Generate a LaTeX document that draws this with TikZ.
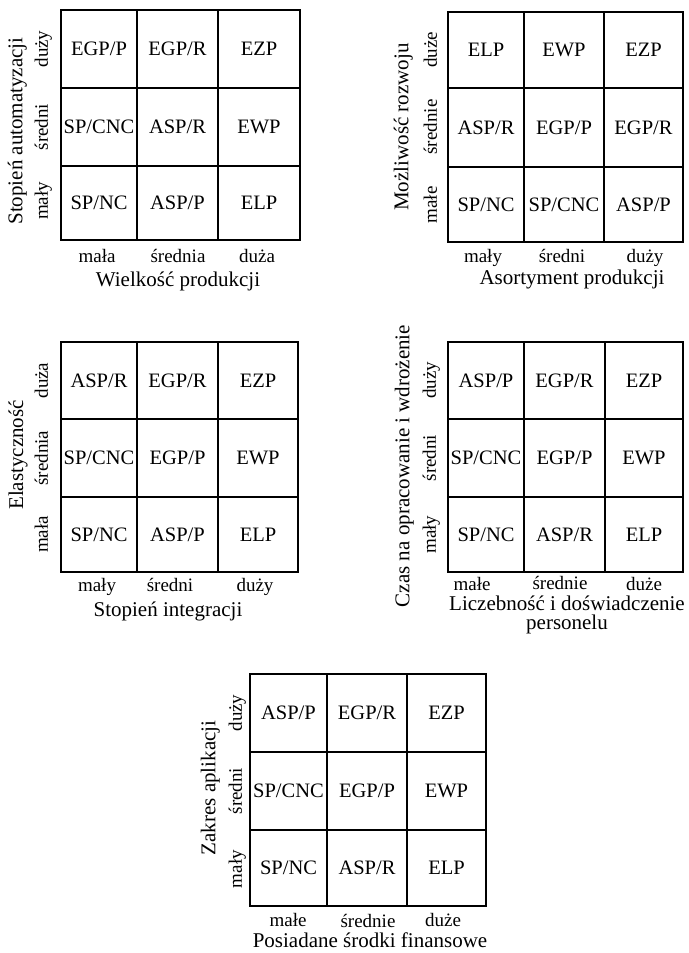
\documentclass[tikz,border=0pt]{standalone}
\usepackage{fontspec}
\setmainfont{Liberation Serif}
\newcommand\matgrid[8]{%
  \draw[gridline] (#1,#5) rectangle (#4,#8);
  \draw[gridline] (#2,#5) -- (#2,#8) (#3,#5) -- (#3,#8) (#1,#6) -- (#4,#6) (#1,#7) -- (#4,#7);}
\begin{document}
\begin{tikzpicture}[x=1pt,y=-1pt,
  cell/.style={font=\fontsize{20.5}{24}\selectfont, inner sep=0pt, text height=13.5pt, text depth=0pt},
  lab/.style={font=\fontsize{19}{22}\selectfont, inner sep=0pt, text height=13.3pt, text depth=3.8pt},
  ttl/.style={font=\fontsize{21}{24}\selectfont, inner sep=0pt, text height=14.7pt, text depth=4.2pt},
  gridline/.style={line width=1.2pt}]
\useasboundingbox[fill=white] (0,0) rectangle (688,953);

% ---------- Grid 1 ----------
\matgrid{61}{137}{218}{300}{10}{88}{166}{240}
\node[cell] (a11) at (99,49) {EGP/P};
\node[cell] (a12) at (177.5,49) {EGP/R};
\node[cell] (a13) at (259,49) {EZP};
\node[cell] (a21) at (99,127) {SP/CNC};
\node[cell] (a22) at (177.5,127) {ASP/R};
\node[cell] (a23) at (259,127) {EWP};
\node[cell] (a31) at (99,203) {SP/NC};
\node[cell] (a32) at (177.5,203) {ASP/P};
\node[cell] (a33) at (259,203) {ELP};
\node[lab] (ax1) at (97,258) {mała};
\node[lab] (ax2) at (178,258) {średnia};
\node[lab] (ax3) at (257,258) {duża};
\node[ttl] (at) at (178,281) {Wielkość produkcji};
\node[lab,rotate=90] (ay1) at (43,49) {duży};
\node[lab,rotate=90] (ay2) at (43,127) {średni};
\node[lab,rotate=90] (ay3) at (43,201) {mały};
\node[ttl,rotate=90] (ayt) at (17,131) {Stopień automatyzacji};

% ---------- Grid 2 ----------
\matgrid{448}{524}{604}{683}{12}{88}{167}{242}
\node[cell] (b11) at (486,50) {ELP};
\node[cell] (b12) at (564,50) {EWP};
\node[cell] (b13) at (643.5,50) {EZP};
\node[cell] (b21) at (486,127.5) {ASP/R};
\node[cell] (b22) at (564,127.5) {EGP/P};
\node[cell] (b23) at (643.5,127.5) {EGP/R};
\node[cell] (b31) at (486,204.5) {SP/NC};
\node[cell] (b32) at (564,204.5) {SP/CNC};
\node[cell] (b33) at (643.5,204.5) {ASP/P};
\node[lab] (bx1) at (483,258) {mały};
\node[lab] (bx2) at (562,258) {średni};
\node[lab] (bx3) at (645,258) {duży};
\node[ttl] (bt) at (572,279) {Asortyment produkcji};
\node[lab,rotate=90] (by1) at (432,50) {duże};
\node[lab,rotate=90] (by2) at (432,127) {średnie};
\node[lab,rotate=90] (by3) at (432,205) {małe};
\node[ttl,rotate=90] (byt) at (403,127) {Możliwość rozwoju};

% ---------- Grid 3 ----------
\matgrid{61}{137}{218}{298}{342}{419}{497}{572}
\node[cell] (c11) at (99,380.5) {ASP/R};
\node[cell] (c12) at (177.5,380.5) {EGP/R};
\node[cell] (c13) at (258,380.5) {EZP};
\node[cell] (c21) at (99,458) {SP/CNC};
\node[cell] (c22) at (177.5,458) {EGP/P};
\node[cell] (c23) at (258,458) {EWP};
\node[cell] (c31) at (99,534.5) {SP/NC};
\node[cell] (c32) at (177.5,534.5) {ASP/P};
\node[cell] (c33) at (258,534.5) {ELP};
\node[lab] (cx1) at (97,587) {mały};
\node[lab] (cx2) at (170,587) {średni};
\node[lab] (cx3) at (255,587) {duży};
\node[ttl] (ct) at (168,611) {Stopień integracji};
\node[lab,rotate=90] (cy1) at (43,380.5) {duża};
\node[lab,rotate=90] (cy2) at (43,458) {średnia};
\node[lab,rotate=90] (cy3) at (43,534.5) {mała};
\node[ttl,rotate=90] (cyt) at (18,455) {Elastyczność};

% ---------- Grid 4 ----------
\matgrid{448}{524}{605}{683}{342}{419}{497}{572}
\node[cell] (d11) at (486,380.5) {ASP/P};
\node[cell] (d12) at (564.5,380.5) {EGP/R};
\node[cell] (d13) at (644,380.5) {EZP};
\node[cell] (d21) at (486,458) {SP/CNC};
\node[cell] (d22) at (564.5,458) {EGP/P};
\node[cell] (d23) at (644,458) {EWP};
\node[cell] (d31) at (486,534.5) {SP/NC};
\node[cell] (d32) at (564.5,534.5) {ASP/R};
\node[cell] (d33) at (644,534.5) {ELP};
\node[lab] (dx1) at (472,586) {małe};
\node[lab] (dx2) at (560,585) {średnie};
\node[lab] (dx3) at (644,586) {duże};
\node[ttl] (dt1) at (567,605) {Liczebność i doświadczenie};
\node[ttl] (dt2) at (567,624) {personelu};
\node[lab,rotate=90] (dy1) at (431,380.5) {duży};
\node[lab,rotate=90] (dy2) at (431,458) {średni};
\node[lab,rotate=90] (dy3) at (431,534.5) {mały};
\node[ttl,rotate=90] (dyt) at (404,466) {Czas na opracowanie i wdrożenie};

% ---------- Grid 5 ----------
\matgrid{250}{327}{407}{486}{674}{752}{830}{906}
\node[cell] (e11) at (288.5,713) {ASP/P};
\node[cell] (e12) at (367,713) {EGP/R};
\node[cell] (e13) at (446.5,713) {EZP};
\node[cell] (e21) at (288.5,791) {SP/CNC};
\node[cell] (e22) at (367,791) {EGP/P};
\node[cell] (e23) at (446.5,791) {EWP};
\node[cell] (e31) at (288.5,868) {SP/NC};
\node[cell] (e32) at (367,868) {ASP/R};
\node[cell] (e33) at (446.5,868) {ELP};
\node[lab] (ex1) at (288,922) {małe};
\node[lab] (ex2) at (368,923) {średnie};
\node[lab] (ex3) at (443,922) {duże};
\node[ttl] (et) at (370,942) {Posiadane środki finansowe};
\node[lab,rotate=90] (ey1) at (237,713) {duży};
\node[lab,rotate=90] (ey2) at (237,791) {średni};
\node[lab,rotate=90] (ey3) at (237,869) {mały};
\node[ttl,rotate=90] (eyt) at (210,788) {Zakres aplikacji};
\end{tikzpicture}
\end{document}
